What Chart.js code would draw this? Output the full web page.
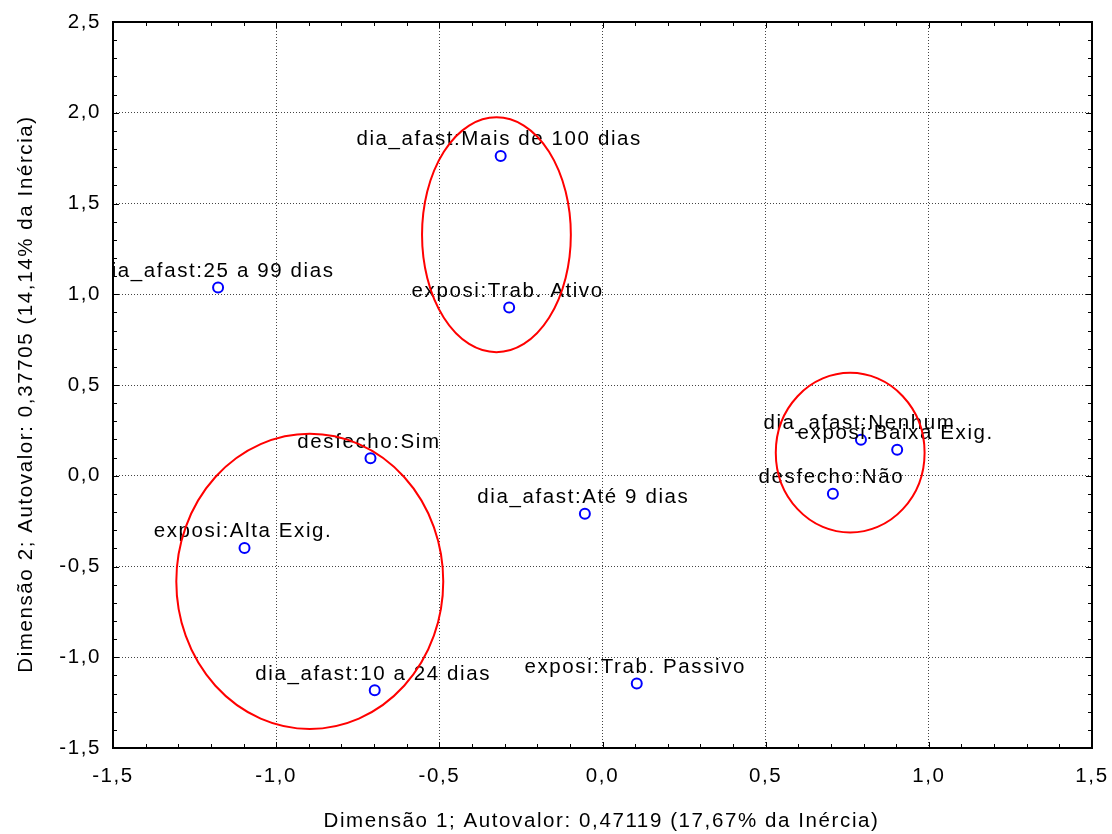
<!DOCTYPE html>
<html>
<head>
<meta charset="utf-8">
<script src="https://cdn.jsdelivr.net/npm/chart.js@4.4.1/dist/chart.umd.min.js"></script>
<style>
  html, body { margin: 0; padding: 0; background: #ffffff; }
  #wrap { width: 1112px; height: 834px; }
</style>
</head>
<body>
<div id="wrap"><canvas id="chart" width="1112" height="834"></canvas></div>
<script>
// Category coordinates on the first two dimensions
const categories = [
  'dia_afast:Mais de 100 dias',
  'exposi:Trab. Ativo',
  'dia_afast:25 a 99 dias',
  'desfecho:Sim',
  'exposi:Alta Exig.',
  'dia_afast:10 a 24 dias',
  'dia_afast:Até 9 dias',
  'exposi:Trab. Passivo',
  'dia_afast:Nenhum',
  'exposi:Baixa Exig.',
  'desfecho:Não'
];
const dim1 = [-0.312, -0.286, -1.178, -0.711, -1.097, -0.698, -0.054, 0.105, 0.792, 0.903, 0.706];
const dim2 = [1.762, 0.927, 1.037, 0.097, -0.398, -1.182, -0.209, -1.145, 0.198, 0.143, -0.099];

// Axis tick labels (ascending order)
const xTickLabels = ['-1,5', '-1,0', '-0,5', '0,0', '0,5', '1,0', '1,5'];
const yTickLabels = ['-1,5', '-1,0', '-0,5', '0,0', '0,5', '1,0', '1,5', '2,0', '2,5'];

// Group ellipses, in data units
const ellipseCenterX = [-0.325, -0.897, 0.759];
const ellipseCenterY = [1.328, -0.582, 0.127];
const ellipseRadiusX = [0.228, 0.409, 0.228];
const ellipseRadiusY = [0.647, 0.813, 0.440];

const xTitle = 'Dimensão 1; Autovalor: 0,47119 (17,67% da Inércia)';
const yTitle = 'Dimensão 2; Autovalor: 0,37705 (14,14% da Inércia)';

const FONT = "'Liberation Sans', Arial, sans-serif";
const FONT_SIZE = 20.5;
const SPACING = '1.6px';

const points = dim1.map((x, i) => ({ x: x, y: dim2[i] }));

// Wide letter spacing for every text on the canvas
const spacingPlugin = {
  id: 'spacing',
  beforeLayout(chart) { chart.ctx.letterSpacing = SPACING; },
  beforeDraw(chart) { chart.ctx.letterSpacing = SPACING; }
};

// Category labels above each marker (clipped to the plot area) and group ellipses
const labelPlugin = {
  id: 'pointLabels',
  afterDatasetsDraw(chart) {
    const ctx = chart.ctx;
    const area = chart.chartArea;
    const xs = chart.scales.x, ys = chart.scales.y;
    ctx.save();
    ctx.beginPath();
    ctx.rect(area.left, area.top, area.right - area.left, area.bottom - area.top);
    ctx.clip();
    ctx.letterSpacing = SPACING;
    ctx.font = FONT_SIZE + 'px ' + FONT;
    ctx.fillStyle = '#000000';
    ctx.textAlign = 'center';
    ctx.textBaseline = 'alphabetic';
    categories.forEach((name, i) => {
      const px = xs.getPixelForValue(dim1[i]);
      const py = ys.getPixelForValue(dim2[i]);
      ctx.fillText(name, px - 1.5, py - 10.5);
    });
    ctx.strokeStyle = '#ff0000';
    ctx.lineWidth = 2;
    ellipseCenterX.forEach((cx, i) => {
      const pcx = xs.getPixelForValue(cx);
      const pcy = ys.getPixelForValue(ellipseCenterY[i]);
      const prx = Math.abs(xs.getPixelForValue(cx + ellipseRadiusX[i]) - pcx);
      const pry = Math.abs(ys.getPixelForValue(ellipseCenterY[i] + ellipseRadiusY[i]) - pcy);
      ctx.beginPath();
      ctx.ellipse(pcx, pcy, prx, pry, 0, 0, Math.PI * 2);
      ctx.stroke();
    });
    ctx.restore();
  }
};

// Plot frame with inward minor ticks on all four sides, plus axis titles
const framePlugin = {
  id: 'frame',
  afterDraw(chart) {
    const ctx = chart.ctx;
    const a = chart.chartArea;
    const xs = chart.scales.x, ys = chart.scales.y;
    ctx.save();
    ctx.strokeStyle = '#000000';
    ctx.lineWidth = 1;
    const step = 0.1;
    for (let k = Math.round(xs.min / step); k <= Math.round(xs.max / step); k++) {
      const len = (k % 5 === 0) ? 6 : 4;
      const px = Math.round(xs.getPixelForValue(k * step)) + 0.5;
      ctx.beginPath();
      ctx.moveTo(px, a.bottom); ctx.lineTo(px, a.bottom - len);
      ctx.moveTo(px, a.top); ctx.lineTo(px, a.top + len);
      ctx.stroke();
    }
    for (let k = Math.round(ys.min / step); k <= Math.round(ys.max / step); k++) {
      const len = (k % 5 === 0) ? 6 : 4;
      const py = Math.round(ys.getPixelForValue(k * step)) + 0.5;
      ctx.beginPath();
      ctx.moveTo(a.left, py); ctx.lineTo(a.left + len, py);
      ctx.moveTo(a.right, py); ctx.lineTo(a.right - len, py);
      ctx.stroke();
    }
    ctx.lineWidth = 2;
    ctx.strokeRect(a.left, a.top, a.right - a.left, a.bottom - a.top);

    // Axis titles
    ctx.letterSpacing = SPACING;
    ctx.font = FONT_SIZE + 'px ' + FONT;
    ctx.fillStyle = '#000000';
    ctx.textAlign = 'center';
    ctx.textBaseline = 'middle';
    ctx.fillText(xTitle, (a.left + a.right) / 2 - 1, 821);
    ctx.translate(26, (a.top + a.bottom) / 2 + 9);
    ctx.rotate(-Math.PI / 2);
    ctx.fillText(yTitle, 0, 0);
    ctx.restore();
  }
};

const gridOpts = {
  color: '#444444',
  lineWidth: 1,
  drawTicks: false,
  tickLength: 0
};
const borderOpts = { display: false, dash: [1, 2] };

new Chart(document.getElementById('chart'), {
  type: 'scatter',
  data: {
    datasets: [{
      data: points,
      pointStyle: 'circle',
      pointRadius: 5,
      pointBorderWidth: 2,
      pointBorderColor: '#0000ff',
      pointBackgroundColor: 'rgba(0,0,0,0)',
      showLine: false
    }]
  },
  options: {
    responsive: false,
    devicePixelRatio: 1,
    animation: false,
    events: [],
    layout: { padding: { top: 22, right: 20, left: 0, bottom: 0 } },
    plugins: { legend: { display: false }, tooltip: { enabled: false } },
    scales: {
      x: {
        type: 'linear',
        min: -1.5, max: 1.5,
        afterFit(scale) { scale.height = 86; scale.paddingLeft = 0; scale.paddingRight = 0; },
        border: borderOpts,
        grid: gridOpts,
        ticks: {
          stepSize: 0.5,
          padding: 16,
          color: '#000000',
          font: { family: FONT, size: FONT_SIZE },
          maxRotation: 0,
          callback: (v, i) => xTickLabels[i]
        }
      },
      y: {
        type: 'linear',
        min: -1.5, max: 2.5,
        afterFit(scale) { scale.width = 113; scale.paddingTop = 0; scale.paddingBottom = 0; },
        border: borderOpts,
        grid: gridOpts,
        ticks: {
          stepSize: 0.5,
          padding: 12,
          color: '#000000',
          font: { family: FONT, size: FONT_SIZE },
          callback: (v, i) => yTickLabels[i]
        }
      }
    }
  },
  plugins: [spacingPlugin, labelPlugin, framePlugin]
});
</script>
</body>
</html>
